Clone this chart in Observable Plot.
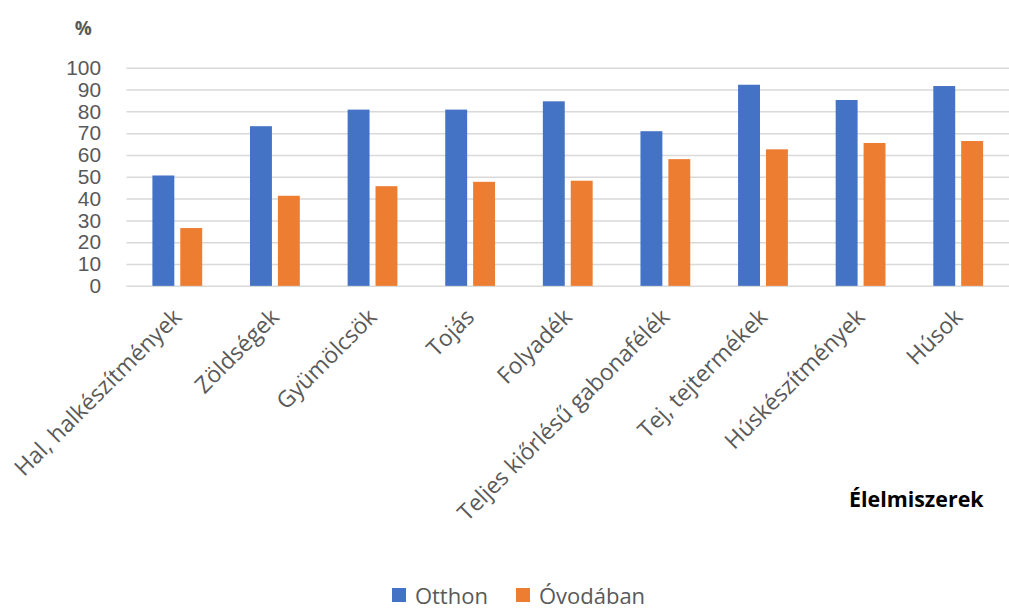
<!DOCTYPE html>
<html>
<head>
<meta charset="utf-8">
<script src="https://cdn.jsdelivr.net/npm/d3@7"></script>
<script src="https://cdn.jsdelivr.net/npm/@observablehq/plot@0.6"></script>
<style>
  html, body { margin: 0; padding: 0; background: #fff; overflow: hidden; }
  #chart { width: 1009px; overflow: hidden; }
  .legend {
    display: flex; justify-content: center; align-items: center;
    font-family: "Open Sans", sans-serif; font-size: 22px; color: #595959;
    height: 36px; padding-top: 6px; padding-left: 28px;
  }
  .legend span.sw { display: inline-block; width: 14px; height: 14px; margin-right: 9px; }
  .legend span.item { display: inline-flex; align-items: center; margin: 0 14px; }
</style>
</head>
<body>
<div id="chart"></div>
<script>
// Élelmiszer-kategóriák és a két helyszín százalékos értékei
const categories = [
  "Hal, halkészítmények", "Zöldségek", "Gyümölcsök", "Tojás", "Folyadék",
  "Teljes kiőrlésű gabonafélék", "Tej, tejtermékek", "Húskészítmények", "Húsok"
];
const otthon   = [50.6, 73.2, 80.8, 80.8, 84.6, 70.9, 92.2, 85.2, 91.6];
const ovodaban = [26.5, 41.3, 45.7, 47.7, 48.2, 58.1, 62.6, 65.5, 66.4];
const seriesNames = ["Otthon", "Óvodában"];
const seriesColors = ["#4472C4", "#ED7D31"];
const yTicks = [0, 10, 20, 30, 40, 50, 60, 70, 80, 90, 100];

const rows = categories.map((c, i) => ({category: c, otthon: otthon[i], ovodaban: ovodaban[i]}));

const plot = Plot.plot({
  width: 1013,
  height: 573,
  marginTop: 68,
  marginBottom: 286,
  marginLeft: 127,
  marginRight: 0,
  style: {fontFamily: "'Open Sans', sans-serif", background: "#fff"},
  x: {domain: categories, paddingInner: 0.776, paddingOuter: 0.388},
  y: {domain: [0, 100]},
  marks: [
    Plot.gridY(yTicks, {stroke: "#d9d9d9", strokeOpacity: 1, strokeWidth: 1.5}),
    Plot.barY(rows, {x: "category", y: "otthon", fill: seriesColors[0], dx: -14}),
    Plot.barY(rows, {x: "category", y: "ovodaban", fill: seriesColors[1], dx: 14}),
    Plot.axisY(yTicks, {tickSize: 0, tickPadding: 26, fontSize: 21, fill: "#595959", label: null, fontFamily: "'Liberation Sans', sans-serif"}),
    Plot.axisX({tickSize: 0, tickRotate: -45, tickPadding: 27, fontSize: 23, fill: "#595959", label: null}),
    Plot.text(["%"], {frameAnchor: "top-left", dx: -44, dy: -47, fontSize: 19, fontWeight: "bold", fill: "#595959", textAnchor: "middle"}),
    Plot.text(["Élelmiszerek"], {frameAnchor: "bottom-right", dx: -26, dy: 222, fontSize: 21.5, fontWeight: "bold", fill: "#000", textAnchor: "end"})
  ]
});
document.getElementById("chart").appendChild(plot);

// Jelmagyarázat a diagram alatt
const legend = d3.select("body").append("div").attr("class", "legend");
seriesNames.forEach((name, i) => {
  const item = legend.append("span").attr("class", "item");
  item.append("span").attr("class", "sw").style("background", seriesColors[i]);
  item.append("span").text(name);
});
</script>
</body>
</html>
